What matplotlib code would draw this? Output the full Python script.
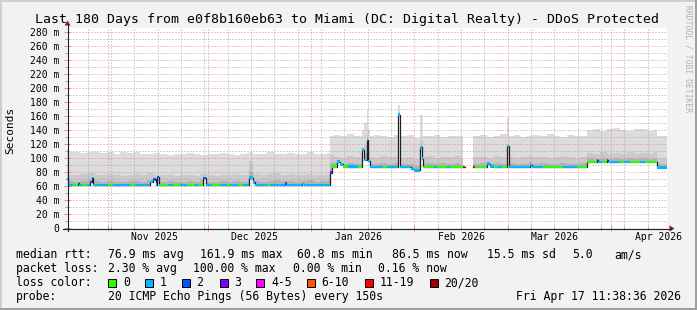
import numpy as np
import matplotlib
matplotlib.use("Agg")
import matplotlib.pyplot as plt
import matplotlib.dates as mdates
from matplotlib.ticker import MultipleLocator
from matplotlib.patches import Polygon, Rectangle
from matplotlib.lines import Line2D
from datetime import datetime

plt.rcParams['font.family'] = ['DejaVu Sans Mono']

W, H = 697, 310
start = datetime(2025, 10, 19, 19, 0)
span_days = 180
y_max = 285.7

title = "Last 180 Days from e0f8b160eb63 to Miami (DC: Digital Realty) - DDoS Protected"

# ---- median RTT (ms), step series: value holds from med_day[i] to med_day[i+1]
med_day = [0, 0.4, 1.8, 3.3, 3.7, 4.5, 6.0, 6.9, 7.4, 7.8,
           12.3, 13.8, 18.9, 20.4, 24.9, 25.8, 26.6, 26.9, 27.5, 27.9,
           30.3, 31.8, 33.9, 36.0, 38.4, 39.3, 40.9, 41.6, 43.5, 45.9,
           48.0, 48.9, 51.3, 52.8, 54.7, 55.7, 56.3, 60.0, 61.0, 65.5,
           66.0, 70.5, 71.0, 78.9, 79.5, 81.0, 81.9, 82.8, 84.3, 87.3,
           88.5, 89.1, 89.9, 90.3, 90.9, 94.8, 96.0, 99.3, 99.9, 103.2,
           104.1, 105.9, 106.5, 106.8, 110.0, 111.0, 114.0, 115.0, 118.8, 119.4,
           121.8, 122.4, 126.0, 126.9, 128.0, 129.0, 130.5, 132.0, 132.5, 139.0,
           139.6, 142.8, 148.8, 153.0, 156.1, 159.0, 159.3, 160.5, 162.0, 162.3,
           166.0, 167.0, 168.9, 171.9, 173.4, 177.1]
med_ms = [70, 61.5, 61.5, 64.5, 61.5, 61.5, 61.5, 66, 71, 61.5,
          61.5, 61.5, 61.5, 61.5, 66, 69.5, 62, 73, 61.5, 61.5,
          61.5, 61.5, 61.5, 61.5, 61.5, 61.5, 71.5, 61.5, 61.5, 61.5,
          61.5, 61.5, 61.5, 61.5, 72, 65, 61.5, 61.5, 61.5, 63.5,
          61.5, 63, 61.5, 79, 87.6, 94.8, 91, 88, 87.5, 87,
          112, 97, 126, 96, 87, 87, 87, 162, 87, 84,
          82.5, 115, 99, 87, 87, 87, 87, 87, 87, np.nan,
          87, 87, 92, 88, 87, 87, 87, 117, 87, 90,
          87, 87, 87, 87, 94.5, 97, 94.5, 94.5, 97, 94.5,
          94.5, 94.5, 94.5, 94.5, 94.5, 86.7]
med_loss = [1, 1, 0, 1, 1, 0, 1, 2, 2, 1,
            0, 1, 0, 1, 1, 2, 1, 2, 1, 0,
            1, 0, 1, 0, 1, 0, 2, 1, 0, 1,
            0, 1, 0, 1, 1, 1, 1, 0, 1, 2,
            1, 1, 1, 3, 0, 1, 1, 0, 1, 0,
            1, 1, 1, 1, 1, 0, 1, 1, 1, 1,
            1, 1, 1, 0, 1, 0, 1, 0, 15, 0,
            15, 0, 1, 1, 0, 1, 0, 1, 1, 1,
            1, 0, 1, 0, 0, 2, 1, 0, 2, 1,
            0, 1, 0, 1, 0, 1]

# ---- smoke (ms): upper edges of the light, medium and dark smoke bands
smoke_day = [0, 0.5, 2, 4, 6, 8, 10, 12, 14, 16,
             18, 20, 22, 24, 26, 28, 30, 32, 34, 36,
             38, 40, 42, 44, 46, 48, 50, 52, 54, 54.7,
             55.7, 56, 58, 60, 62, 64, 66, 68, 70, 72,
             74, 76, 78, 78.9, 80, 82, 84, 86, 88.5, 89.1,
             89.9, 90.3, 90.9, 92, 94, 96, 98, 99.3, 99.9, 102,
             104, 105.9, 106.8, 108, 110, 112, 114, 116, 118, 119.4,
             121.8, 124, 126, 128, 130, 132, 132.5, 134, 136, 138,
             139, 139.6, 142, 144, 146, 148, 150, 152, 154, 156.1,
             158, 160, 162, 164, 166, 168, 170, 172, 174, 176,
             177.1]
smoke_max = [113, 108, 109, 107, 108, 109, 107, 108, 106, 108,
             107, 109, 106, 105, 107, 106, 104, 106, 105, 107,
             105, 104, 106, 105, 107, 106, 104, 106, 107, 108,
             106, 105, 106, 108, 105, 106, 107, 105, 106, 108,
             106, 105, 107, 132, 133, 131, 134, 132, 140, 150,
             169, 140, 131, 133, 132, 130, 133, 175, 131, 133,
             129, 161, 132, 131, 133, 130, 132, 131, 132, np.nan,
             131, 133, 130, 132, 134, 157, 131, 133, 130, 132,
             131, 133, 131, 134, 132, 130, 133, 131, 132, 140,
             142, 139, 141, 143, 140, 138, 141, 142, 139, 140,
             132]
smoke_mid = [77, 76, 75, 77, 78, 76, 75, 77, 76, 74,
             76, 77, 75, 78, 76, 75, 76, 74, 75, 76,
             74, 77, 75, 74, 76, 75, 77, 75, 76, 95,
             79, 77, 76, 77, 78, 76, 77, 75, 76, 77,
             75, 76, 77, 104, 102, 100, 103, 101, 110, 118,
             135, 110, 102, 100, 103, 101, 102, 166, 100, 102,
             98, 125, 101, 103, 100, 102, 101, 103, 100, np.nan,
             101, 102, 100, 103, 101, 120, 102, 100, 101, 103,
             104, 101, 102, 100, 101, 103, 101, 100, 102, 107,
             106, 108, 105, 107, 106, 108, 105, 107, 106, 108,
             100]
smoke_low = [68, 67, 66, 67, 68, 67, 66, 67, 66, 66,
             67, 67, 66, 69, 68, 66, 67, 66, 66, 67,
             66, 68, 66, 66, 67, 66, 67, 66, 67, 80,
             68, 67, 66, 67, 68, 67, 67, 66, 67, 68,
             66, 67, 67, 93, 93, 92, 93, 92, 100, 105,
             128, 100, 92, 92, 93, 92, 93, 163, 92, 92,
             88, 117, 92, 93, 92, 93, 92, 93, 92, np.nan,
             92, 93, 92, 93, 92, 118, 93, 92, 92, 93,
             95, 92, 93, 92, 92, 93, 92, 92, 93, 100,
             99, 100, 99, 100, 99, 100, 99, 100, 99, 100,
             92]

# ---- axes text
y_ticks = [0, 20, 40, 60, 80, 100, 120, 140, 160, 180, 200, 220, 240, 260, 280]
y_tick_labels = ['0', '20 m', '40 m', '60 m', '80 m', '100 m', '120 m', '140 m',
                 '160 m', '180 m', '200 m', '220 m', '240 m', '260 m', '280 m']
month_labels = ['Nov 2025', 'Dec 2025', 'Jan 2026', 'Feb 2026', 'Mar 2026', 'Apr 2026']
month_label_dates = [datetime(2025, 11, 15, 3), datetime(2025, 12, 15, 3),
                     datetime(2026, 1, 15, 3), datetime(2026, 2, 15, 3),
                     datetime(2026, 3, 15, 3), datetime(2026, 4, 15, 3)]

loss_names = ['0', '1', '2', '3', '4-5', '6-10', '11-19', '20/20']
loss_upper = [0, 1, 2, 3, 5, 10, 19, 20]
loss_colors = ['#26ff00', '#00b8ff', '#0059ff', '#7e00ff', '#ff00ff', '#ff5500', '#ff0000', '#a00000']

# ---- figure
fig = plt.figure(figsize=(W / 100, H / 100), dpi=100)
fig.patch.set_facecolor('#f2f2f2')


def P(x, y):
    return (x / W, 1 - y / H)


ax = fig.add_axes([67 / W, 1 - 228 / H, 600 / W, 200 / H])
ax.set_facecolor('white')
x0 = mdates.date2num(start)

# step evaluation on union of breakpoints
all_days = np.array(sorted(set(med_day) | set(smoke_day) | {float(span_days)}))
mi = np.searchsorted(med_day, all_days, side='right') - 1
si = np.searchsorted(smoke_day, all_days, side='right') - 1
med = np.array(med_ms, dtype=float)[mi]
s_hi = np.array(smoke_max, dtype=float)[si]
s_mid = np.array(smoke_mid, dtype=float)[si]
s_lo = np.array(smoke_low, dtype=float)[si]
xs = x0 + all_days
ok = ~np.isnan(med)

ax.fill_between(xs, med, np.maximum(s_hi, med), where=ok, step='post', color='#dcdcdc', lw=0, zorder=1)
ax.fill_between(xs, med, np.maximum(s_mid, med), where=ok, step='post', color='#c9c9c9', lw=0, zorder=1.1)
ax.fill_between(xs, med, np.maximum(s_lo, med), where=ok, step='post', color='#b2b2b2', lw=0, zorder=1.2)

# median: dark line then loss-coloured bands
ax.step(xs, med, where='post', color='#202020', lw=0.9, zorder=3)
md = np.array(med_day + [span_days], dtype=float)
widths = np.diff(md)
cols = [loss_colors[next(i for i, u in enumerate(loss_upper) if l <= u)] for l in med_loss]
sw = 1.8
ax.bar(x0 + md[:-1], np.full(len(med_ms), 2 * sw), width=widths,
       bottom=np.array(med_ms, dtype=float) - sw, align='edge', color=cols, lw=0, zorder=4)

ax.set_xlim(x0, x0 + span_days)
ax.set_ylim(0, y_max)

# grid
ax.xaxis.set_major_locator(mdates.MonthLocator())
ax.xaxis.set_minor_locator(mdates.WeekdayLocator(byweekday=mdates.SU))
ax.set_yticks(y_ticks, y_tick_labels)
ax.yaxis.set_minor_locator(MultipleLocator(10))
ax.set_axisbelow(False)
ax.grid(which='major', color='#e88c8c', lw=0.72, linestyle=(0, (1, 2)))
ax.grid(which='minor', color='#a8a8a8', lw=0.72, linestyle=(0, (1, 2)))
ax.tick_params(axis='x', which='both', labelbottom=False)
ax.tick_params(axis='x', which='major', direction='inout', length=4, width=0.72, color='#e88c8c')
ax.tick_params(axis='x', which='minor', direction='inout', length=3, width=0.72, color='#a8a8a8')
ax.tick_params(axis='y', which='major', direction='inout', length=4, width=0.72, color='#e88c8c',
               labelsize=7, pad=3.6)
ax.tick_params(axis='y', which='minor', direction='inout', length=3, width=0.72, color='#a8a8a8')
for s in ax.spines.values():
    s.set_visible(False)

for lab, d in zip(month_labels, month_label_dates):
    ax.text(mdates.date2num(d), -12.9, lab, ha='center', va='center', fontsize=7, clip_on=False)

# axis lines & arrows
fig.add_artist(Line2D([67.5 / W, 67.5 / W], [1 - 231 / H, 1 - 24 / H], color='#1f1f1f', lw=0.8))
fig.add_artist(Line2D([63 / W, 671 / W], [1 - 228.5 / H, 1 - 228.5 / H], color='#1f1f1f', lw=0.8))
fig.add_artist(Polygon([P(64.5, 25.5), P(70.5, 25.5), P(67.5, 20.5)], closed=True,
                       transform=fig.transFigure, color='#801f1f', lw=0))
fig.add_artist(Polygon([P(669.5, 225.5), P(669.5, 231.5), P(674.5, 228.5)], closed=True,
                       transform=fig.transFigure, color='#801f1f', lw=0))

# texts
fig.text(*P(347, 19), title, ha='center', va='center', fontsize=9.55)
fig.text(*P(10, 130), 'Seconds', rotation=90, ha='center', va='center', fontsize=8)
fig.text(*P(688, 5), 'RRDTOOL / TOBI OETIKER', rotation=270, ha='center', va='top',
         fontsize=5.8, color='#b0b0b0')

lfs = 8.3
rows_y = [254.5, 268.5, 282.5, 296.5]
line1 = [('median rtt:', 16), ('76.9 ms avg', 107.6), ('161.9 ms max', 200), ('60.8 ms min', 297),
         ('86.5 ms now', 392), ('15.5 ms sd', 487), ('5.0', 572), ('am/s', 614)]
line2 = [('packet loss:', 16), ('2.30 % avg', 107.6), ('100.00 % max', 193), ('0.00 % min', 293),
         ('0.16 % now', 378)]
for txt, x in line1:
    fig.text(*P(x, rows_y[0]), txt, ha='left', va='center', fontsize=lfs)
for txt, x in line2:
    fig.text(*P(x, rows_y[1]), txt, ha='left', va='center', fontsize=lfs)
fig.text(*P(16, rows_y[2]), 'loss color:', ha='left', va='center', fontsize=lfs)
box_x = [108.4, 145.3, 182, 219.6, 256.4, 307, 365.3, 429.8]
for bx, name, c in zip(box_x, loss_names, loss_colors):
    fig.add_artist(Rectangle(P(bx, rows_y[2] + 4), 8 / W, 8 / H, transform=fig.transFigure,
                             facecolor=c, edgecolor='black', lw=0.72))
    fig.text(*P(bx + 14.6, rows_y[2]), name, ha='left', va='center', fontsize=lfs)
fig.text(*P(16, rows_y[3]), 'probe:', ha='left', va='center', fontsize=lfs)
fig.text(*P(107.6, rows_y[3]), '20 ICMP Echo Pings (56 Bytes) every 150s', ha='left', va='center', fontsize=lfs)
fig.text(*P(681, rows_y[3]), 'Fri Apr 17 11:38:36 2026', ha='right', va='center', fontsize=lfs)

# frame (3D-style border)
fig.add_artist(Rectangle((0, 1 - 2 / H), 1, 2 / H, transform=fig.transFigure, color='#cfcfcf', lw=0))
fig.add_artist(Rectangle((0, 0), 2 / W, 1, transform=fig.transFigure, color='#cfcfcf', lw=0))
fig.add_artist(Rectangle((0, 0), 1, 2 / H, transform=fig.transFigure, color='#9e9e9e', lw=0))
fig.add_artist(Rectangle((1 - 2 / W, 0), 2 / W, 1, transform=fig.transFigure, color='#9e9e9e', lw=0))

fig.savefig('out.png', dpi=100, facecolor=fig.get_facecolor())
